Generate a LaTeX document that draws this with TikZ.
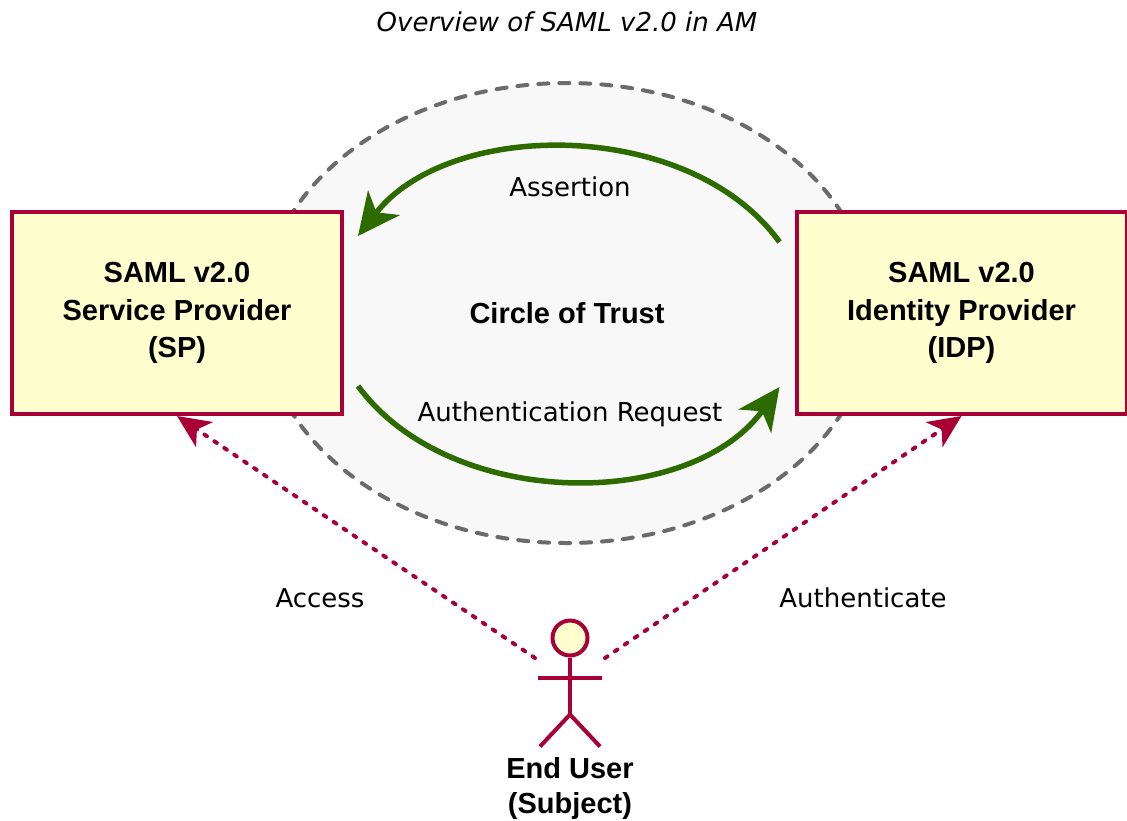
\documentclass[tikz,border=0pt]{standalone}
\usepackage{fontspec}
\setmainfont{DejaVu Sans}
\newfontfamily\headfont{Liberation Sans}
\usetikzlibrary{arrows.meta,positioning,calc,shapes.geometric}
\definecolor{umlred}{HTML}{A80036}
\definecolor{umlfill}{HTML}{FEFECE}
\definecolor{trustgreen}{HTML}{2D6A00}
\definecolor{trustgray}{HTML}{6B6B6B}
\definecolor{trustfill}{HTML}{F8F8F8}

\begin{document}
\begin{tikzpicture}[
    x=0.5pt, y=-0.5pt,
    font=\fontsize{13}{16}\selectfont,
    provider/.style={rectangle, draw=umlred, fill=umlfill, line width=2pt, minimum width=165pt, minimum height=101pt, align=center, font=\headfont\bfseries\fontsize{14.5}{18.75}\selectfont},
    trust/.style={ellipse, draw=trustgray, fill=trustfill, line width=2pt, line cap=round, dash pattern=on 5pt off 5.5pt, minimum width=305pt, minimum height=230pt, font=\headfont\bfseries\fontsize{14.5}{18.75}\selectfont},
    flow/.style={-{Stealth[length=21pt,width=20pt,inset=6pt]}, draw=trustgreen, line width=2.75pt},
    uses/.style={-{Stealth[length=16.5pt,width=15pt,inset=4.5pt]}, draw=umlred, line width=2pt, line cap=round, dash pattern=on 1.5pt off 4.5pt},
    actor/.style={draw=umlred, line width=2pt},
    actorlabel/.style={align=center, font=\headfont\bfseries\fontsize{14.5}{17.5}\selectfont}
]
\useasboundingbox (0,0) rectangle (1127,820);

\node[font=\itshape\fontsize{13}{16}\selectfont] (title) at (567,22) {Overview of SAML v2.0 in AM};

% circle of trust behind the providers
\node[trust] (cot) at (567,313) {Circle of Trust};

\node[provider] (sp) at (177,313) {SAML v2.0\\ Service Provider\\ (SP)};
\node[provider] (idp) at (961.5,313) {SAML v2.0\\ Identity Provider\\ (IDP)};

% messages between the providers
\draw[flow] ($(idp.west)+(-15,-71)$) .. controls (690,118) and (450,118) .. ($(sp.east)+(14,-77)$);
\draw[flow] ($(sp.east)+(14,73)$) .. controls (450,511) and (690,511) .. ($(idp.west)+(-15,74)$);
\node (assert) at (570,187) {Assertion};
\node (authreq) at (570,414) {Authentication Request};

% end user
\node[circle, actor, fill=umlfill, minimum size=17.5pt, inner sep=0pt] (head) at (570,638) {};
\draw[actor] (head.south) -- ++(0,57) coordinate (hip);
\draw[actor] ($(head.south)+(-32,20)$) -- ++(64,0);
\draw[actor] (hip) -- ++(-30,32);
\draw[actor] (hip) -- ++(30,32);
\node[actorlabel] (user) at (570,788) {End User\\(Subject)};

\draw[uses] ($(head)+(-35,20)$) -- (sp.south);
\draw[uses] ($(head)+(35,20)$) -- (idp.south);
\node (access) at (320,598) {Access};
\node (authn) at (863,598) {Authenticate};
\end{tikzpicture}
\end{document}
